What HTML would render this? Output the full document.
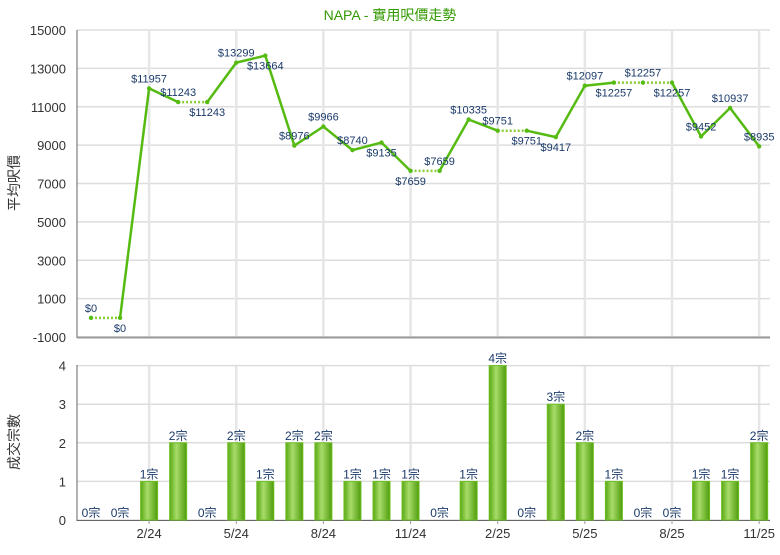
<!DOCTYPE html>
<html><head><meta charset="utf-8"><style>
body{margin:0;background:#fff;}
svg text{font-family:"Liberation Sans","Noto Sans CJK TC",sans-serif;}
</style></head><body>
<svg id="s" width="780" height="550" xmlns="http://www.w3.org/2000/svg">
<defs><linearGradient id="g" x1="0" x2="1" y1="0" y2="0">
<stop offset="0" stop-color="#5aa814"/><stop offset="0.4" stop-color="#a8dc6a"/><stop offset="1" stop-color="#4f9c0c"/></linearGradient></defs>
</svg>
<script>
var s=document.getElementById('s'),h='';
var P=[0,0,11957,11243,11243,13299,13664,8976,9966,8740,9135,7659,7659,10335,9751,9751,9417,12097,12257,12257,12257,9452,10937,8935];
var C=[0,0,1,2,0,2,1,2,2,1,1,1,0,1,4,0,3,2,1,0,0,1,1,2];
var A=[1,0,1,1,0,1,0,1,1,1,0,0,1,1,1,0,0,1,0,1,0,1,1,1];
function X(i){return 91+29.05*i}
function Y(v){return 337-(v+1000)*307/16000}
function B(c){return 520-c*38.6}
h+='<text x="390" y="20" text-anchor="middle" font-size="14" fill="#339900">NAPA - 實用呎價走勢</text>';
// top grid
for(var v=-1000;v<=15000;v+=2000){var y=Y(v);h+='<line x1="77" x2="770" y1="'+y+'" y2="'+y+'" stroke="#ddd" stroke-width="1.5"/>';h+='<text x="66" y="'+(y+5)+'" text-anchor="end" font-size="13" fill="#333">'+v+'</text>';}
for(var i=2;i<24;i+=3){h+='<line x1="'+X(i)+'" x2="'+X(i)+'" y1="30" y2="337" stroke="#e6e6e6" stroke-width="2.5"/>';h+='<line x1="'+X(i)+'" x2="'+X(i)+'" y1="365" y2="520" stroke="#e6e6e6" stroke-width="2.5"/>';}
for(var c=0;c<=4;c++){var y=B(c);h+='<line x1="77" x2="770" y1="'+y+'" y2="'+y+'" stroke="#ddd" stroke-width="1.5"/>';h+='<text x="66" y="'+(y+5)+'" text-anchor="end" font-size="13" fill="#333">'+c+'</text>';}
h+='<line x1="77" x2="77" y1="30" y2="338" stroke="#666"/><line x1="77" x2="770" y1="337.5" y2="337.5" stroke="#999" stroke-width="2"/>';
h+='<line x1="77" x2="77" y1="365" y2="521" stroke="#666"/><line x1="77" x2="770" y1="520.5" y2="520.5" stroke="#666"/>';
h+='<text transform="translate(19,183) rotate(-90)" text-anchor="middle" font-size="14" fill="#333">平均呎價</text>';
h+='<text transform="translate(19,442) rotate(-90)" text-anchor="middle" font-size="14" fill="#333">成交宗數</text>';
var L=['2/24','5/24','8/24','11/24','2/25','5/25','8/25','11/25'];
for(var k=0;k<8;k++){var x=X(2+3*k);h+='<line x1="'+x+'" x2="'+x+'" y1="520" y2="524" stroke="#999"/><text x="'+x+'" y="538" text-anchor="middle" font-size="13" fill="#333">'+L[k]+'</text>';}
for(var i=0;i<23;i++){var eq=P[i]==P[i+1];h+='<line x1="'+X(i)+'" y1="'+Y(P[i])+'" x2="'+X(i+1)+'" y2="'+Y(P[i+1])+'" stroke="'+(eq?'#88cc33':'#55bb11')+'" stroke-width="'+(eq?2.5:2.5)+'" '+(eq?'stroke-dasharray="2,2"':'')+'/>';}
for(var i=0;i<24;i++){h+='<circle cx="'+X(i)+'" cy="'+Y(P[i])+'" r="2.2" fill="#55bb11"/>';var y=Y(P[i])+(A[i]?-6:14);h+='<text x="'+X(i)+'" y="'+y+'" text-anchor="middle" font-size="11" fill="#1a3a6a">$'+P[i]+'</text>';}
for(var i=0;i<24;i++){var x=X(i),y=B(C[i]);if(C[i]>0)h+='<rect x="'+(x-8.5)+'" y="'+y+'" width="17" height="'+(520-y)+'" fill="url(#g)" stroke="#6cbf22" stroke-width="1"/>';h+='<text x="'+x+'" y="'+(y-3)+'" text-anchor="middle" font-size="12" fill="#1a3a6a">'+C[i]+'宗</text>';}
s.innerHTML+=h;
</script>
</body></html>
